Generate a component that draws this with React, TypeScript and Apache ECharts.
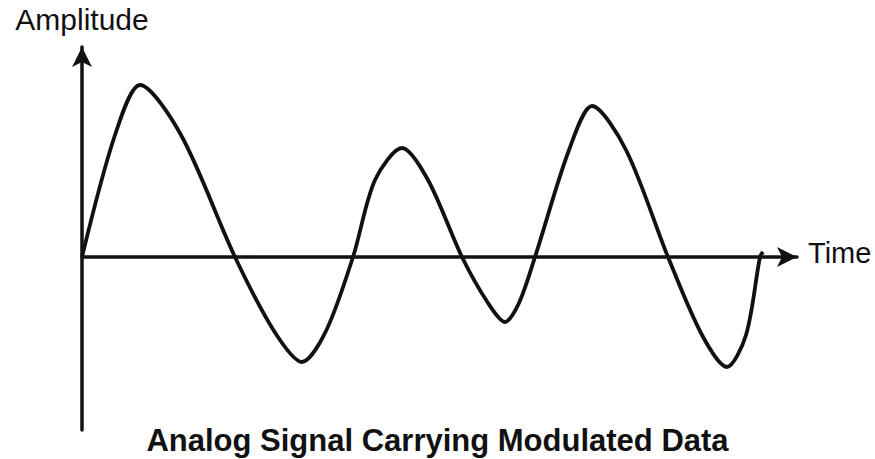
import React, { useEffect, useRef } from "react";
import * as echarts from "echarts";

// Zero crossings, ~70% height points and extremes of each lobe.
const timeValues = [
  0, 3.3, 5.8, 9.9, 15.3,
  19.2, 22.0, 24.4, 27.1,
  29.3, 32.0, 34.6, 38.0,
  40.6, 42.3, 43.7, 45.3,
  48.7, 51.0, 54.4, 58.6,
  62.0, 64.5, 66.4, 67.8, 68.1,
];
const amplitudeValues = [
  0, 12.2, 17.2, 12.2, 0,
  -7.4, -10.5, -7.4, 0,
  7.7, 10.9, 7.7, 0,
  -4.6, -6.5, -4.6, 0,
  10.7, 15.1, 10.7, 0,
  -7.8, -11.0, -7.8, 0, 0.5,
];
const xAxisName = "Time";
const yAxisName = "Amplitude";
const chartTitle = "Analog Signal Carrying Modulated Data";

const INK = "#111111";
const FONT = "'Liberation Sans', Arial, Helvetica, sans-serif";

export default function App() {
  const ref = useRef<HTMLDivElement>(null);
  useEffect(() => {
    document.body.style.margin = "0";
    if (!ref.current) return;
    const chart = echarts.init(ref.current, null, { renderer: "svg" });
    const data = timeValues.map((t, i) => [t, amplitudeValues[i]]);
    chart.setOption({
      animation: false,
      backgroundColor: "#ffffff",
      title: {
        text: chartTitle,
        left: "center",
        top: 420,
        textStyle: { fontFamily: FONT, fontSize: 31, fontWeight: "bold", color: INK },
      },
      grid: { left: 82, right: 78, top: 47, bottom: 29, containLabel: false },
      graphic: [
        {
          type: "text",
          x: 808,
          y: 253,
          style: {
            text: xAxisName,
            font: "29px " + FONT,
            fill: INK,
            textAlign: "left",
            textVerticalAlign: "middle",
          },
        },
      ],
      xAxis: {
        type: "value",
        min: 0,
        max: 71.5,
        axisLine: {
          show: true,
          onZero: true,
          symbol: ["none", "arrow"],
          symbolSize: [15, 20],
          lineStyle: { color: INK, width: 3.5 },
        },
        axisTick: { show: false },
        axisLabel: { show: false },
        splitLine: { show: false },
      },
      yAxis: {
        type: "value",
        min: -17.3,
        max: 21,
        name: yAxisName,
        nameLocation: "end",
        nameGap: 13,
        nameTextStyle: { fontFamily: FONT, fontSize: 30, color: INK },
        axisLine: {
          show: true,
          onZero: false,
          symbol: ["none", "arrow"],
          symbolSize: [15, 20],
          lineStyle: { color: INK, width: 3.5 },
        },
        axisTick: { show: false },
        axisLabel: { show: false },
        splitLine: { show: false },
      },
      series: [
        {
          type: "line",
          data,
          smooth: 0.3,
          showSymbol: false,
          lineStyle: { color: INK, width: 3.8 },
        },
      ],
    });
    return () => chart.dispose();
  }, []);
  return <div ref={ref} style={{ width: 875, height: 459 }} />;
}
